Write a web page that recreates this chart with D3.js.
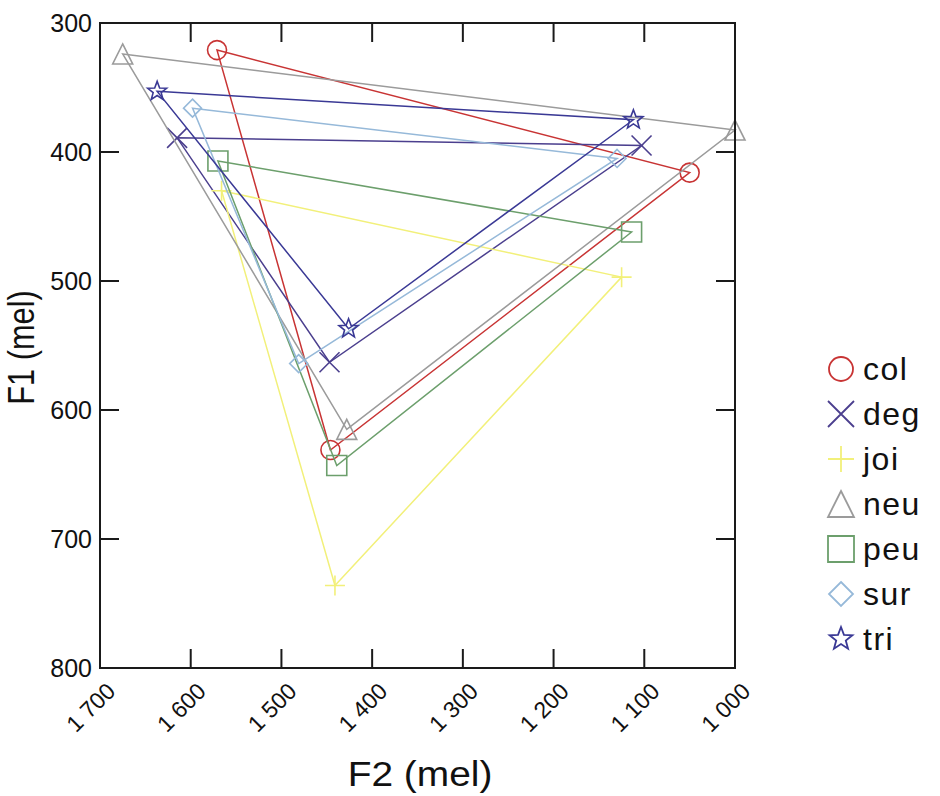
<!DOCTYPE html>
<html>
<head>
<meta charset="utf-8">
<script src="https://cdn.jsdelivr.net/npm/d3@7"></script>
<style>
  html, body { margin: 0; padding: 0; background: #fff; }
  svg text { font-family: "Liberation Sans", Arial, Helvetica, sans-serif; fill: #111; }
</style>
</head>
<body>
<svg id="chart" width="940" height="796"></svg>
<script>
// ---------------- data ----------------
const seriesNames = ["col", "deg", "joi", "neu", "peu", "sur", "tri"];
const seriesColors = ["#c83434", "#4b3f8e", "#f2f07a", "#9b9b9b", "#6c9f6c", "#96b9d9", "#3a3995"];
const seriesSymbols = ["circle", "times", "plus", "triangle", "square", "diamond", "star"];
// each vowel triangle: [i, u, a] as [F2, F1] in mel
const col = [[1571, 321], [1050, 416], [1446, 631]];
const deg = [[1615, 389], [1103, 395], [1447, 563]];
const joi = [[1566, 430], [1125, 497], [1441, 736]];
const neu = [[1675, 324], [1000, 383], [1428, 615]];
const peu = [[1570, 407], [1114, 462], [1439, 643]];
const sur = [[1598, 366], [1130, 405], [1481, 564]];
const tri = [[1637, 353], [1112, 375], [1426, 537]];
const seriesData = [col, deg, joi, neu, peu, sur, tri];
const xTicks = [1700, 1600, 1500, 1400, 1300, 1200, 1100, 1000];
const yTicks = [300, 400, 500, 600, 700, 800];

// ---------------- layout ----------------
const svg = d3.select("#chart");
const L = 100, R = 735, T = 23, B = 668;
const x = d3.scaleLinear().domain([1700, 1000]).range([L, R]);
const y = d3.scaleLinear().domain([300, 800]).range([T, B]);

// symbol path generator (own shapes, stroked)
function symbolPath(type, s) {
  const h = s / 2;
  switch (type) {
    case "circle":
      return `M${h},0A${h},${h} 0 1,1 ${-h},0A${h},${h} 0 1,1 ${h},0Z`;
    case "times":
      return `M${-h},${-h}L${h},${h}M${-h},${h}L${h},${-h}`;
    case "plus":
      return `M${-h},0L${h},0M0,${-h}L0,${h}`;
    case "triangle":
      return `M0,${-h}L${h},${h}L${-h},${h}Z`;
    case "square":
      return `M${-h},${-h}L${h},${-h}L${h},${h}L${-h},${h}Z`;
    case "diamond":
      return `M0,${-h}L${h},0L0,${h}L${-h},0Z`;
    case "star": {
      const ro = h, ri = h * 0.42;
      let d = "";
      for (let k = 0; k < 10; k++) {
        const r = k % 2 === 0 ? ro : ri;
        const a = -Math.PI / 2 + k * Math.PI / 5;
        d += (k === 0 ? "M" : "L") + (r * Math.cos(a)).toFixed(2) + "," + (r * Math.sin(a)).toFixed(2);
      }
      return d + "Z";
    }
  }
}
const plotSize = { circle: 19, times: 20, plus: 20, triangle: 20, square: 20, diamond: 18, star: 20 };
const legendSize = { circle: 24, times: 26, plus: 26, triangle: 26, square: 26, diamond: 24, star: 24 };

// ---------------- series ----------------
const gData = svg.append("g");
const lineGen = d3.line().x(d => x(d[0])).y(d => y(d[1])).curve(d3.curveLinearClosed);
seriesData.forEach((pts, i) => {
  const g = gData.append("g");
  g.append("path")
    .attr("d", lineGen(pts))
    .attr("fill", "none")
    .attr("stroke", seriesColors[i])
    .attr("stroke-width", 1.5)
    .attr("stroke-linejoin", "miter");
  g.selectAll("path.m").data(pts).join("path")
    .attr("class", "m")
    .attr("transform", d => `translate(${x(d[0])},${y(d[1])})`)
    .attr("d", symbolPath(seriesSymbols[i], plotSize[seriesSymbols[i]]))
    .attr("fill", "none")
    .attr("stroke", seriesColors[i])
    .attr("stroke-width", 1.6);
});

// ---------------- frame & ticks ----------------
const axisColor = "#1a1a1a";
svg.append("rect").attr("x", L).attr("y", T).attr("width", R - L).attr("height", B - T)
  .attr("fill", "none").attr("stroke", axisColor).attr("stroke-width", 2);
const tl = 19;
svg.append("g").selectAll("line").data(xTicks).join("line")
  .attr("x1", d => x(d)).attr("x2", d => x(d)).attr("y1", T).attr("y2", T + tl)
  .attr("stroke", axisColor).attr("stroke-width", 2);
svg.append("g").selectAll("line").data(xTicks).join("line")
  .attr("x1", d => x(d)).attr("x2", d => x(d)).attr("y1", B).attr("y2", B - tl)
  .attr("stroke", axisColor).attr("stroke-width", 2);
svg.append("g").selectAll("line").data(yTicks).join("line")
  .attr("x1", L).attr("x2", L + tl).attr("y1", d => y(d)).attr("y2", d => y(d))
  .attr("stroke", axisColor).attr("stroke-width", 2);
svg.append("g").selectAll("line").data(yTicks).join("line")
  .attr("x1", R).attr("x2", R - tl).attr("y1", d => y(d)).attr("y2", d => y(d))
  .attr("stroke", axisColor).attr("stroke-width", 2);

// tick labels
const fmt = v => { const s = String(v); return s.length > 3 ? s.slice(0, s.length - 3) + " " + s.slice(-3) : s; };
svg.append("g").selectAll("text").data(yTicks).join("text")
  .attr("x", L - 8).attr("y", d => y(d)).attr("dy", "0.35em")
  .attr("text-anchor", "end").attr("font-size", 25).text(d => d);
svg.append("g").selectAll("text").data(xTicks).join("text")
  .attr("transform", d => `translate(${x(d) + 11},${B + 19}) rotate(-45)`)
  .attr("text-anchor", "end").attr("dy", "0.35em").attr("font-size", 23).text(d => fmt(d));

// axis titles
svg.append("text").attr("transform", "translate(420,786) scale(1.08,1)")
  .attr("text-anchor", "middle").attr("font-size", 36).text("F2 (mel)");
svg.append("text").attr("transform", `translate(34,${(T + B) / 2 + 2}) rotate(-90) scale(0.88,1.05)`)
  .attr("text-anchor", "middle").attr("font-size", 35).text("F1 (mel)");

// ---------------- legend ----------------
const lg = svg.append("g").attr("transform", "translate(841,369)");
seriesNames.forEach((name, i) => {
  const row = lg.append("g").attr("transform", `translate(0,${i * 45})`);
  row.append("path").attr("d", symbolPath(seriesSymbols[i], legendSize[seriesSymbols[i]]))
    .attr("fill", "none").attr("stroke", seriesColors[i]).attr("stroke-width", 1.8);
  row.append("text").attr("x", 22).attr("dy", "0.35em").attr("font-size", 32)
    .attr("letter-spacing", 1.5).text(name);
});
</script>
</body>
</html>
